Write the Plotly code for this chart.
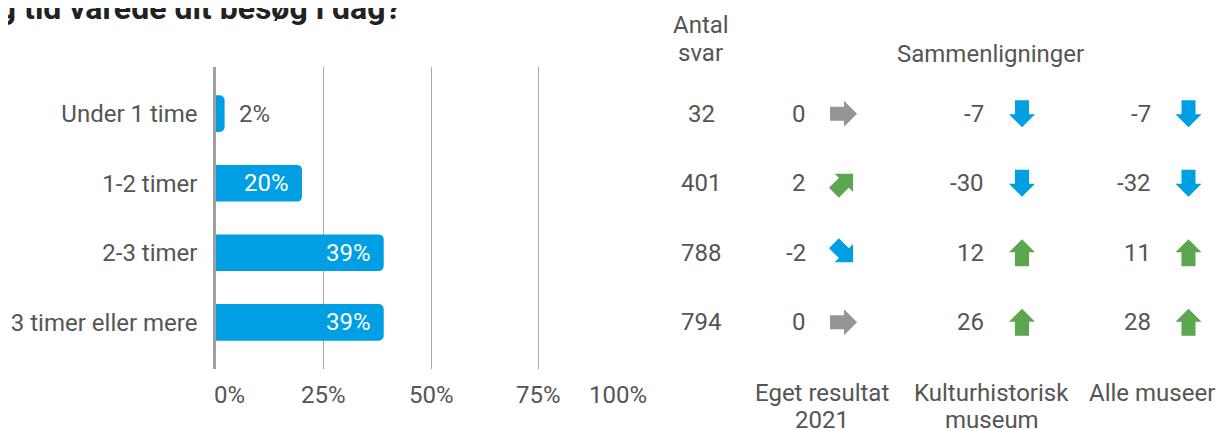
import math
import plotly.graph_objects as go

# ---------------- data ----------------
categories = ["Under 1 time", "1-2 timer", "2-3 timer", "3 timer eller mere"]
shares = [2, 20, 39, 39]
antal_svar = [32, 401, 788, 794]
diff_eget = [0, 2, -2, 0]
diff_kultur = [-7, -30, 12, 26]
diff_alle = [-7, -32, 11, 28]
x_ticks = [0, 25, 50, 75, 100]
x_tick_labels = ["0%", "25%", "50%", "75%", "100%"]
title_text = "Hvor lang tid varede dit besøg i dag?"
header_antal = ["Antal", "svar"]
header_comp = "Sammenligninger"
col_labels = [["Eget resultat", "2021"], ["Kulturhistorisk", "museum"], ["Alle museer"]]

# ---------------- style / layout ----------------
WIN_W, WIN_H = 1226, 430
OFF = 8                      # page body margin
W, H = WIN_W - OFF, WIN_H - OFF
FONT = "Roboto"
TXT = "#555555"
BLUE = "#009FE3"
GREEN = "#5BA64F"
GRAY_ARROW = "#939598"
GRID = "#A8A8A8"

def py(p):  # window pixel y -> paper y
    return 1 - (p - OFF) / H

def px(p):  # window pixel x -> paper x
    return (p - OFF) / W

idx = list(range(len(categories)))

fig = go.Figure()
fig.add_trace(go.Bar(
    x=shares, y=idx, orientation="h", width=0.528,
    marker=dict(color=BLUE, cornerradius=5, line=dict(width=0)),
    hoverinfo="skip", showlegend=False,
))

annotations = []
shapes = []

# value labels on bars
for v, i in zip(shares, idx):
    inside = v >= 10
    annotations.append(dict(
        x=v, y=i, xref="x", yref="y", text=f"{v}%", showarrow=False,
        xanchor="right" if inside else "left", xshift=-11 if inside else 12,
        yanchor="middle",
        font=dict(family=FONT, size=24, color="white" if inside else TXT),
    ))

# x tick labels
for t, lab in zip(x_ticks, x_tick_labels):
    if t == x_ticks[0]:
        xa, xs = "left", -4
    elif t == x_ticks[-1]:
        xa, xs = "right", 3
    else:
        xa, xs = "center", 0
    annotations.append(dict(
        x=t, y=py(394.6), xref="x", yref="paper", text=lab, showarrow=False,
        xanchor=xa, xshift=xs, yanchor="middle",
        font=dict(family=FONT, size=24, color=TXT),
    ))

# columns on the right (x2 axis in window-pixel units)
ANTAL_X = 701
NUM_X = [808, 986, 1153]
ARROW_X = [843.5, 1022, 1188.5]
FOOT_X = [821.5, 991.7, 1151.7]

for v, i in zip(antal_svar, idx):
    annotations.append(dict(
        x=ANTAL_X, y=i, xref="x2", yref="y", text=str(v), showarrow=False,
        xanchor="center", yanchor="middle",
        font=dict(family=FONT, size=24, color=TXT),
    ))

BASE = [(-13.5, -7), (0.5, -7), (0.5, -13), (13.5, 0), (0.5, 13), (0.5, 7), (-13.5, 7)]

def arrow_angle(v):
    if v == 0:
        return 0
    if abs(v) <= 5:
        return 45 if v > 0 else -45
    return 90 if v > 0 else -90

def arrow_color(v):
    if v > 0:
        return GREEN
    if v < 0:
        return BLUE
    return GRAY_ARROW

def arrow_path(angle):
    a = math.radians(angle)
    c, s = math.cos(a), math.sin(a)
    pts = [(x * c - y * s, x * s + y * c) for x, y in BASE]
    return "M" + "L".join(f"{x:.2f},{y:.2f}" for x, y in pts) + "Z"

for col, diffs in enumerate([diff_eget, diff_kultur, diff_alle]):
    for v, i in zip(diffs, idx):
        annotations.append(dict(
            x=NUM_X[col], y=i, xref="x2", yref="y", text=str(v), showarrow=False,
            xanchor="right", yanchor="middle",
            font=dict(family=FONT, size=24, color=TXT),
        ))
        shapes.append(dict(
            type="path", xref="x2", yref="y", xsizemode="pixel", ysizemode="pixel",
            xanchor=ARROW_X[col], yanchor=i, path=arrow_path(arrow_angle(v)),
            fillcolor=arrow_color(v), line=dict(width=0), layer="above",
        ))

# headers
annotations.append(dict(x=700.5, y=py(25.2), xref="x2", yref="paper", text=header_antal[0],
                        showarrow=False, xanchor="center", yanchor="middle",
                        font=dict(family=FONT, size=24, color=TXT)))
annotations.append(dict(x=700.5, y=py(53), xref="x2", yref="paper", text=header_antal[1],
                        showarrow=False, xanchor="center", yanchor="middle",
                        font=dict(family=FONT, size=24, color=TXT)))
annotations.append(dict(x=990.5, y=py(54), xref="x2", yref="paper", text=header_comp,
                        showarrow=False, xanchor="center", yanchor="middle",
                        font=dict(family=FONT, size=24, color=TXT)))

# footers
for col, lines in enumerate(col_labels):
    for k, line in enumerate(lines):
        annotations.append(dict(x=FOOT_X[col], y=py(393.3 + 27 * k), xref="x2", yref="paper",
                                text=line, showarrow=False, xanchor="center", yanchor="middle",
                                font=dict(family=FONT, size=24, color=TXT)))

# title (partly cut off in the reference)
annotations.append(dict(x=px(403), y=py(8), xref="paper", yref="paper", text=f"<b>{title_text}</b>",
                        showarrow=False, xanchor="right", yanchor="middle",
                        font=dict(family=FONT, size=32, color="#222222")))

fig.update_layout(
    width=W, height=H,
    margin=dict(l=0, r=0, t=0, b=0),
    paper_bgcolor="white", plot_bgcolor="rgba(0,0,0,0)",
    showlegend=False,
    xaxis=dict(domain=[px(216), px(646)], range=[0, 100], tickvals=x_ticks,
               showgrid=True, gridcolor=GRID, gridwidth=1, zeroline=False,
               showticklabels=False, showline=False, ticks="", fixedrange=True),
    xaxis2=dict(domain=[0, 1], range=[OFF, WIN_W], anchor="y", visible=False,
                showgrid=False, zeroline=False, fixedrange=True),
    yaxis=dict(domain=[py(369), py(67)], range=[3.672, -0.672], tickvals=idx,
               ticktext=categories, showgrid=False, zeroline=False,
               showline=True, linecolor="#A0A0A0", linewidth=2.5, ticks="",
               ticklabelstandoff=11, tickfont=dict(family=FONT, size=24, color=TXT),
               fixedrange=True),
    annotations=annotations,
    shapes=shapes,
)

fig.write_html("out.html")
